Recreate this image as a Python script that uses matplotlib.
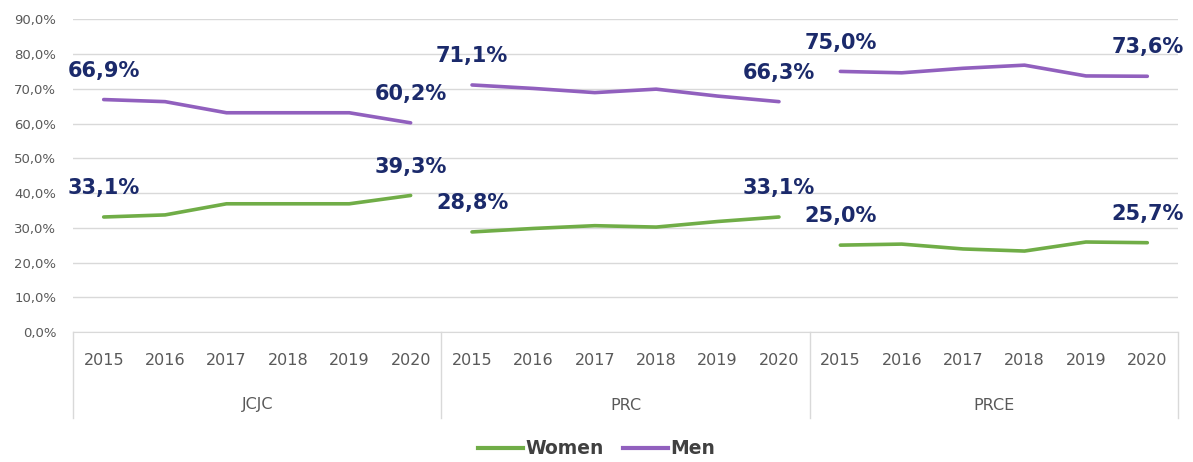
import matplotlib
matplotlib.use("Agg")
import matplotlib.pyplot as plt
from matplotlib.ticker import FuncFormatter
from matplotlib.transforms import blended_transform_factory
import numpy as np

GREEN = "#70AD47"
PURPLE = "#9160BE"
NAVY = "#1B2A6B"
GRID = "#D9D9D9"
TICK = "#595959"

groups = ["JCJC", "PRC", "PRCE"]
years = ["2015", "2016", "2017", "2018", "2019", "2020"]

women_jcjc = [33.1, 33.7, 36.9, 36.9, 36.9, 39.3]
women_prc = [28.8, 29.8, 30.6, 30.2, 31.8, 33.1]
women_prce = [25.0, 25.3, 23.9, 23.3, 25.9, 25.7]

men_jcjc = [66.9, 66.3, 63.1, 63.1, 63.1, 60.2]
men_prc = [71.1, 70.1, 68.9, 69.9, 67.9, 66.3]
men_prce = [75.0, 74.6, 75.9, 76.8, 73.7, 73.6]

women = [women_jcjc, women_prc, women_prce]
men = [men_jcjc, men_prc, men_prce]

plt.rcParams["font.family"] = ["DejaVu Sans"]

fig = plt.figure(figsize=(11.93, 4.62), dpi=100)
ax = fig.add_axes([73 / 1193, 130 / 462, 1105 / 1193, 312.7 / 462])

n = len(years)
for g, (w, m) in enumerate(zip(women, men)):
    xs = np.arange(n) + g * n + 0.5
    for vals, col in ((w, GREEN), (m, PURPLE)):
        ax.plot(xs, vals, color=col, linewidth=2.6, solid_capstyle="round")
        # first and last year get a value label
        for i in (0, n - 1):
            ax.annotate(f"{vals[i]:.1f}%".replace(".", ","), (xs[i], vals[i]),
                        textcoords="offset points", xytext=(0, 16.5),
                        ha="center", va="baseline", fontsize=15,
                        fontweight="bold", color=NAVY)

ax.set_xlim(0, n * len(groups))
ax.set_ylim(0, 90)
ax.set_yticks(np.arange(0, 91, 10))
ax.yaxis.set_major_formatter(FuncFormatter(lambda v, _: f"{v:.1f}%".replace(".", ",")))
ax.grid(axis="y", color=GRID, linewidth=1)
ax.set_axisbelow(True)
for s in ("top", "right", "left"):
    ax.spines[s].set_visible(False)
ax.spines["bottom"].set_color(GRID)
ax.tick_params(axis="y", length=0, colors=TICK, labelsize=9.5, pad=12)

ax.set_xticks(np.arange(n * len(groups)) + 0.5)
ax.set_xticklabels(years * len(groups))
ax.tick_params(axis="x", length=0, colors=TICK, labelsize=11.5, pad=15)

trans = blended_transform_factory(ax.transData, ax.transAxes)
for g in range(len(groups) + 1):
    ax.plot([g * n, g * n], [0, -86 / 312.7], transform=trans, color=GRID,
            linewidth=1, clip_on=False)
for g, name in enumerate(groups):
    ax.text(g * n + n / 2, -73 / 312.7, name, transform=trans, ha="center",
            va="center", fontsize=11.5, color=TICK)

handles = [plt.Line2D([], [], color=GREEN, linewidth=3),
           plt.Line2D([], [], color=PURPLE, linewidth=3)]
fig.legend(handles, ["Women", "Men"], loc="center", bbox_to_anchor=(0.5, 13 / 462),
           ncol=2, frameon=False, handlelength=2.4, handletextpad=0.15,
           columnspacing=1.0, prop={"weight": "bold", "size": 13.5},
           labelcolor="#404040")

fig.savefig("out.png", dpi=100)
